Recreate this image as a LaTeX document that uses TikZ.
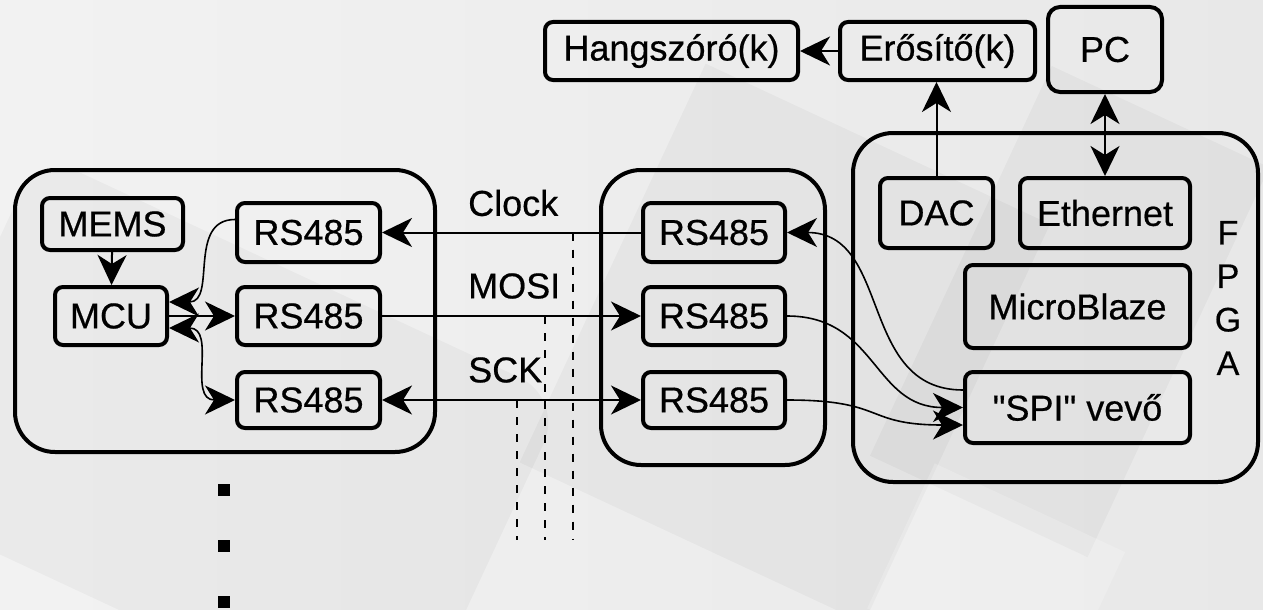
\documentclass[tikz,border=0pt]{standalone}
\usepackage{fontspec}
\newfontfamily\diagfont{Liberation Sans}[BoldFont={Liberation Sans}, BoldFeatures={FakeBold=0.5}]
\usetikzlibrary{arrows.meta}

\tikzset{
  lbl/.style={font=\diagfont\bfseries\fontsize{36}{42}\selectfont, text=black, inner sep=0pt},
  box/.style={lbl, draw=black, line width=4pt, rounded corners=8pt, align=center},
  group/.style={draw=black, line width=4pt, rounded corners=40pt},
  conn/.style={draw=black, line width=2pt},
  curve/.style={draw=black, line width=1.6pt},
  tip/.style={-{Stealth[length=30pt,width=29pt,inset=9pt]}},
  bitip/.style={{Stealth[length=30pt,width=29pt,inset=9pt]}-{Stealth[length=30pt,width=29pt,inset=9pt]}},
  busline/.style={draw=black, line width=2pt, dash pattern=on 8pt off 9pt},
  dotmark/.style={fill=black, minimum size=12pt, inner sep=0pt},
}

\begin{document}
\begin{tikzpicture}[x=1pt, y=-1pt]
  % backdrop: pale grey with faint photo shapes
  \useasboundingbox (0,0) rectangle (1263,610);
  \shade[left color=black!5, right color=black!9] (0,0) rectangle (1263,610);
  \begin{scope}[opacity=0.03]
    \fill[black, rounded corners=50pt, rotate around={-25:(230,430)}] (-60,260) rectangle (520,640);
    \fill[black, rotate around={-25:(780,330)}] (600,120) rectangle (980,560);
    \fill[black, rotate around={-25:(1050,330)}] (940,90) rectangle (1180,520);
  \end{scope}
  \fill[white, opacity=0.2, rotate around={-25:(1000,560)}] (900,500) rectangle (1110,660);

  % sensor board
  \draw[group] (15,170) rectangle (435,452);
  \node[box, minimum width=141pt, minimum height=52pt] (mems) at (112.5,224) {MEMS};
  \node[box, minimum width=112pt, minimum height=58pt] (mcu) at (111,316) {MCU};
  \node[box, minimum width=143pt, minimum height=59pt] (lr1) at (308.5,232.5) {RS485};
  \node[box, minimum width=143pt, minimum height=58pt] (lr2) at (308.5,316) {RS485};
  \node[box, minimum width=143pt, minimum height=56pt] (lr3) at (308.5,400) {RS485};

  % line driver board
  \draw[group] (601,170) rectangle (825,465);
  \node[box, minimum width=142pt, minimum height=59pt] (mr1) at (714,232.5) {RS485};
  \node[box, minimum width=142pt, minimum height=58pt] (mr2) at (714,316) {RS485};
  \node[box, minimum width=142pt, minimum height=56pt] (mr3) at (714,400) {RS485};

  % FPGA
  \draw[group] (853,133) rectangle (1258,482);
  \node[box, minimum width=113pt, minimum height=70pt] (dac) at (936.5,213) {DAC};
  \node[box, minimum width=170pt, minimum height=70pt] (eth) at (1105,213) {Ethernet};
  \node[box, minimum width=225pt, minimum height=83pt] (mb) at (1077.5,306.5) {MicroBlaze};
  \node[box, minimum width=225pt, minimum height=71pt] (spi) at (1077.5,407.5) {\symbol{34}SPI\symbol{34} vevő};
  \node[lbl, align=center, font=\diagfont\bfseries\fontsize{34}{43.5}\selectfont] (fpga) at (1228,298) {F\\P\\G\\A};

  % outside devices
  \node[box, minimum width=253pt, minimum height=58pt] (hang) at (671.5,51) {Hangszóró(k)};
  \node[box, minimum width=195pt, minimum height=58pt] (erosito) at (937.5,51) {Erősítő(k)};
  \node[box, minimum width=114pt, minimum height=85pt, rounded corners=12pt] (pc) at (1105,49.5) {PC};

  % signal names
  \node[lbl, anchor=west] (clk) at (468,203) {Clock};
  \node[lbl, anchor=west] (mosi) at (468,286) {MOSI};
  \node[lbl, anchor=west] (sck) at (468,370) {SCK};

  % inside the sensor board
  \draw[conn, tip] (mems) -- (mcu);
  \draw[curve, tip] ([yshift=13pt]lr1.west) .. controls +(-48,0) and +(48,0) .. ([yshift=14pt]mcu.east);
  \draw[conn, tip] (mcu) -- (lr2);
  \draw[curve, bitip] ([yshift=-12pt]mcu.east) .. controls +(48,0) and +(-48,0) .. (lr3.west);

  % bus between the boards
  \draw[conn, tip] (mr1) -- (lr1);
  \draw[conn, tip] (lr2) -- (mr2);
  \draw[conn, bitip] (lr3) -- (mr3);

  % further sensors on the bus
  \coordinate (b1) at (573,540);
  \coordinate (b2) at (545,540);
  \coordinate (b3) at (517,540);
  \draw[busline] (lr1.east -| b1) -- (b1);
  \draw[busline] (lr2.east -| b2) -- (b2);
  \draw[busline] (lr3.east -| b3) -- (b3);
  \node[dotmark] (dot1) at (224,490) {};
  \node[dotmark] (dot2) at (224,546) {};
  \node[dotmark] (dot3) at (224,602) {};

  % line drivers to the SPI receiver
  \draw[curve, tip] ([yshift=17.5pt]spi.west) .. controls +(-105,0) and +(105,0) .. (mr1.east);
  \draw[curve, tip] (mr2.east) .. controls +(90,0) and +(-90,0) .. (spi.west);
  \draw[curve, tip] (mr3.east) .. controls +(100,0) and +(-100,0) .. ([yshift=-17.5pt]spi.west);

  % FPGA to the outside
  \draw[conn, tip] (dac.north) -- (dac.north |- erosito.south);
  \draw[conn, bitip] (eth) -- (pc);
  \draw[conn, tip] (erosito) -- (hang);
\end{tikzpicture}
\end{document}
